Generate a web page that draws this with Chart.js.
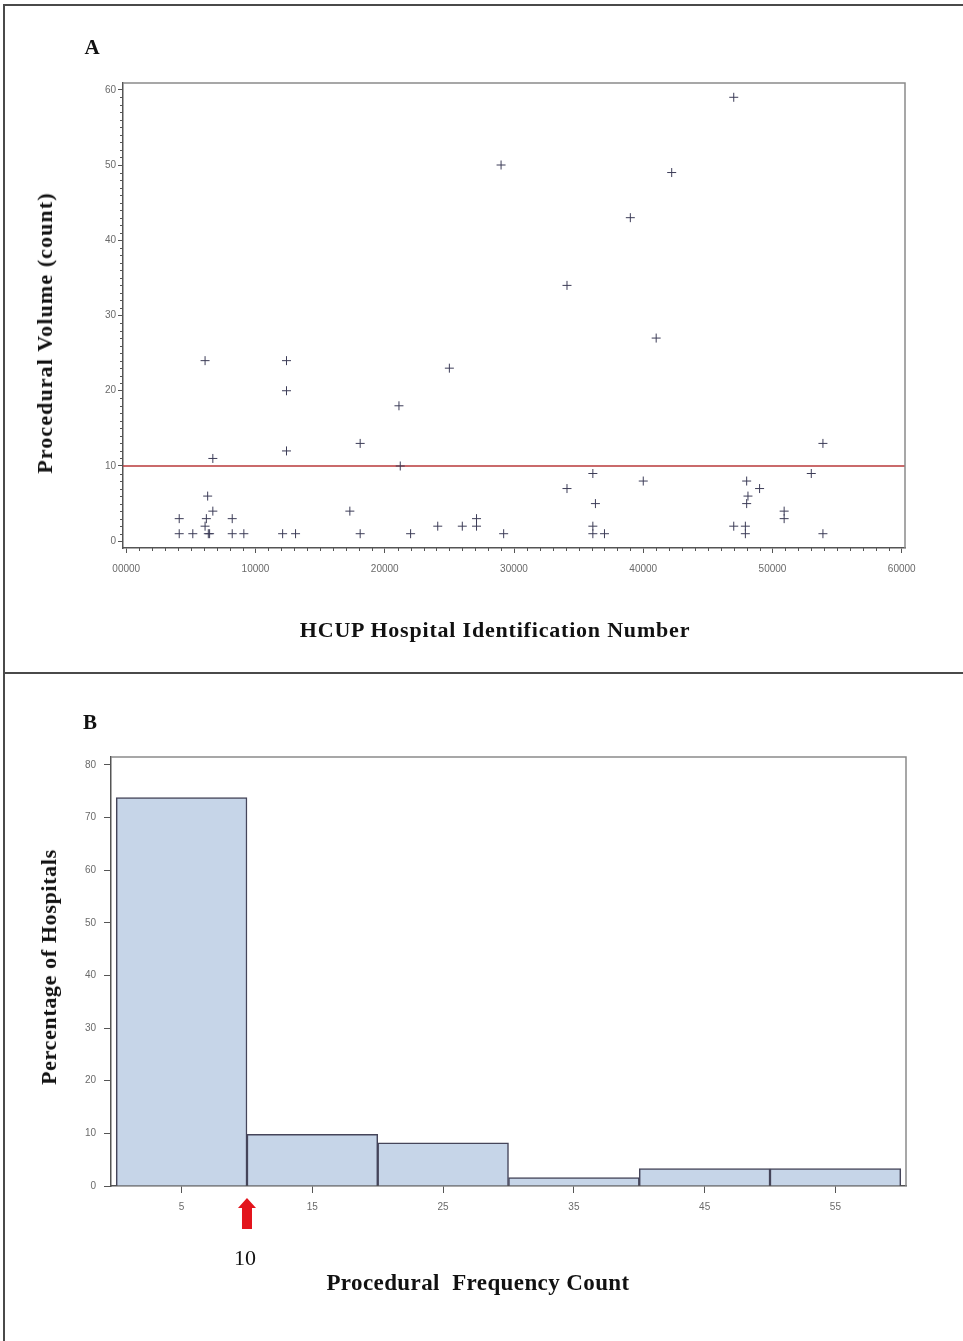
<!DOCTYPE html>
<html><head><meta charset="utf-8">
<script src="https://cdn.jsdelivr.net/npm/chart.js@4.4.1/dist/chart.umd.min.js"></script>
<style>
html,body{margin:0;padding:0;background:#fff;}
#page{position:relative;width:963px;height:1341px;overflow:hidden;background:#fff;}
canvas{position:absolute;left:0;}
.t{position:absolute;font-family:"Liberation Serif","Times New Roman",serif;color:#111;white-space:pre;transform:translate(-50%,-50%);line-height:1;}
.b{font-weight:bold;}
.rot{transform:translate(-50%,-50%) rotate(-90deg);}
.ln{position:absolute;background:#4a4a4a;}
</style></head><body>
<div id="page">
<div class="ln" style="left:3px;top:4px;width:2px;height:1337px"></div>
<div class="ln" style="left:3px;top:4px;width:960px;height:2px"></div>
<div class="ln" style="left:3px;top:672px;width:960px;height:2px"></div>
<canvas id="cA" width="963" height="673" style="top:0"></canvas>
<canvas id="cB" width="963" height="668" style="top:673px"></canvas>
<div class="t b" style="left:92px;top:47px;font-size:21px">A</div>
<div class="t b rot" style="left:45px;top:333px;font-size:22px;letter-spacing:1.1px">Procedural Volume (count)</div>
<div class="t b" style="left:495px;top:630px;font-size:22px;letter-spacing:0.8px">HCUP Hospital Identification Number</div>
<div class="t b" style="left:90px;top:722px;font-size:21px">B</div>
<div class="t b rot" style="left:49px;top:967px;font-size:22px;letter-spacing:0.65px">Percentage of Hospitals</div>
<div class="t" style="left:245px;top:1258px;font-size:22px">10</div>
<div class="t b" style="left:478px;top:1282px;font-size:23px;letter-spacing:0.4px">Procedural  Frequency Count</div>
</div>
<script>
// ---- Panel A data ----
const hospitalIds = [4100,4100,5150,6100,6200,6300,6350,6450,6700,6700,6100,8200,8200,9100,12100,12400,12400,12400,13100,17300,18100,18100,21100,21200,22000,24100,25000,26000,27100,27100,29000,29200,34100,34100,36100,36300,36100,36100,37000,39000,40000,41000,42200,47000,47000,48000,48100,48000,47900,47900,49000,50900,50900,53000,53900,53900];
const procedureVolumes = [3,1,1,2,3,6,1,1,4,11,24,3,1,1,1,12,24,20,1,4,13,1,18,10,1,2,23,2,3,2,50,1,7,34,9,5,2,1,1,43,8,27,49,59,2,8,6,5,2,1,7,4,3,9,13,1];
const volumeCutoff = 10;
const idTickValues = [0,10000,20000,30000,40000,50000,60000];
const idTickLabels = ['00000','10000','20000','30000','40000','50000','60000'];
const volumeTickValues = [0,10,20,30,40,50,60];

// ---- Panel B data ----
const freqBinCenters = [5,15,25,35,45,55];
const hospitalPercent = [73.8,9.8,8.2,1.6,3.3,3.3];
const freqTickLabels = ['5','15','25','35','45','55'];
const pctTickValues = [0,10,20,30,40,50,60,70,80];

const tickFont = {family:'"Liberation Sans", Arial, sans-serif', size:10};
const tickColor = '#6a6a6a';
const axisColor = '#555';

const framePlugin = {
  id:'frameTR',
  afterDatasetsDraw(chart){
    const a = chart.chartArea, ctx = chart.ctx;
    ctx.save(); ctx.strokeStyle = '#8a8a8a'; ctx.lineWidth = 1.5;
    ctx.beginPath();
    ctx.moveTo(a.left, a.top); ctx.lineTo(a.right, a.top); ctx.lineTo(a.right, a.bottom);
    ctx.stroke(); ctx.restore();
  }
};

const minorTicksA = {
  id:'minorA',
  afterDraw(chart){
    const {ctx, chartArea:a, scales:{x,y}} = chart;
    ctx.save(); ctx.strokeStyle = axisColor; ctx.lineWidth = 1;
    ctx.beginPath();
    for (let v = 0; v <= 60; v++) {
      if (v % 10 === 0) continue;
      const py = Math.round(y.getPixelForValue(v)) + 0.5;
      ctx.moveTo(a.left - 3, py); ctx.lineTo(a.left, py);
    }
    for (let v = 0; v <= 60000; v += 1000) {
      if (v % 10000 === 0) continue;
      const px = Math.round(x.getPixelForValue(v)) + 0.5;
      ctx.moveTo(px, a.bottom); ctx.lineTo(px, a.bottom + 3);
    }
    ctx.stroke(); ctx.restore();
  }
};

const arrowPlugin = {
  id:'cutArrow',
  afterDraw(chart){
    const {ctx, chartArea:a, scales:{x}} = chart;
    const cx = x.getPixelForValue(volumeCutoff);
    const tip = a.bottom + 12, base = tip + 10, end = tip + 31;
    ctx.save(); ctx.fillStyle = '#e3141c';
    ctx.beginPath();
    ctx.moveTo(cx, tip); ctx.lineTo(cx + 9, base); ctx.lineTo(cx + 5, base);
    ctx.lineTo(cx + 5, end); ctx.lineTo(cx - 5, end); ctx.lineTo(cx - 5, base);
    ctx.lineTo(cx - 9, base); ctx.closePath(); ctx.fill();
    ctx.restore();
  }
};

function axis(opts){
  return Object.assign({
    type:'linear',
    border:{display:true, color:axisColor, width:1.5},
    grid:{display:true, drawOnChartArea:false, drawTicks:true, tickLength:5, color:axisColor, offset:false},
    offset:false
  }, opts);
}

const xMinA = -250, xMaxA = 60250;
new Chart(document.getElementById('cA'), {
  data:{datasets:[
    {type:'scatter', data: hospitalIds.map((h,i)=>({x:h, y:procedureVolumes[i]})),
     pointStyle:'cross', pointRadius:4.5, pointBorderColor:'#3d3d58', pointBorderWidth:1, pointBackgroundColor:'#3d3d58'},
    {type:'line', data:[{x:xMinA, y:volumeCutoff},{x:xMaxA, y:volumeCutoff}],
     borderColor:'#b8383a', borderWidth:1.5, pointRadius:0}
  ]},
  options:{
    responsive:false, animation:false, devicePixelRatio:1,
    layout:{padding:{left:60, top:83, right:58, bottom:95}},
    plugins:{legend:{display:false}, tooltip:{enabled:false}},
    scales:{
      x: axis({position:'bottom', min:xMinA, max:xMaxA,
        afterBuildTicks:s=>{s.ticks = idTickValues.map(v=>({value:v}));},
        afterFit:s=>{s.height = 30;},
        ticks:{font:tickFont, color:tickColor, padding:10, maxRotation:0, autoSkip:false,
               callback:(v,i)=>idTickLabels[i]}}),
      y: axis({position:'left', min:-0.9, max:60.9,
        afterBuildTicks:s=>{s.ticks = volumeTickValues.map(v=>({value:v}));},
        afterFit:s=>{s.width = 63;},
        ticks:{font:tickFont, color:tickColor, padding:2, autoSkip:false, callback:v=>String(v)}})
    }
  },
  plugins:[framePlugin, minorTicksA]
});

new Chart(document.getElementById('cB'), {
  type:'bar',
  data:{datasets:[{
    data: freqBinCenters.map((c,i)=>({x:c, y:hospitalPercent[i]})),
    backgroundColor:'#c6d5e8', borderColor:'#45455a', borderWidth:1.5,
    barPercentage:1, categoryPercentage:1
  }]},
  options:{
    responsive:false, animation:false, devicePixelRatio:1,
    layout:{padding:{left:60, top:84, right:57, bottom:125}},
    plugins:{legend:{display:false}, tooltip:{enabled:false}},
    scales:{
      x: axis({position:'bottom', min:-0.4, max:60.4,
        grid:{display:true, drawOnChartArea:false, drawTicks:true, tickLength:7, color:axisColor, offset:false},
        afterBuildTicks:s=>{s.ticks = freqBinCenters.map(v=>({value:v}));},
        afterFit:s=>{s.height = 30;},
        ticks:{font:tickFont, color:tickColor, padding:8, maxRotation:0, autoSkip:false,
               callback:(v,i)=>freqTickLabels[i]}}),
      y: axis({position:'left', min:0, max:81.5,
        grid:{display:true, drawOnChartArea:false, drawTicks:true, tickLength:7, color:axisColor, offset:false},
        afterBuildTicks:s=>{s.ticks = pctTickValues.map(v=>({value:v}));},
        afterFit:s=>{s.width = 51;},
        ticks:{font:tickFont, color:tickColor, padding:8, autoSkip:false, callback:v=>String(v)}})
    }
  },
  plugins:[framePlugin, arrowPlugin]
});
</script>
</body></html>
